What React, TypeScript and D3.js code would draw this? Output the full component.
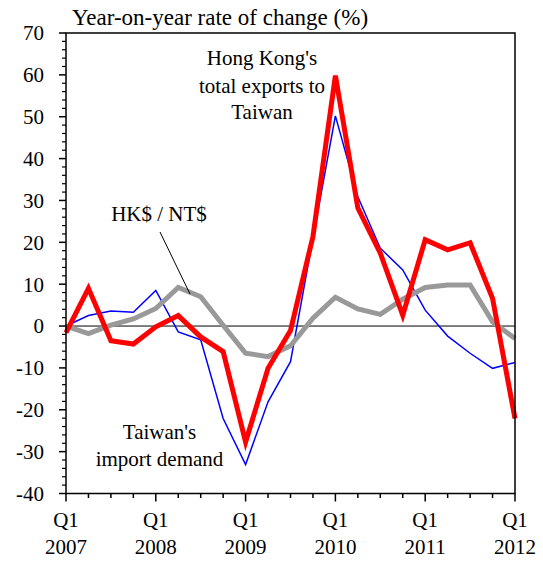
import React from "react";
import * as d3 from "d3";

const quarterIndex: number[] = d3.range(0, 21);
const yearLabels: string[] = ["2007", "2008", "2009", "2010", "2011", "2012"];
const hkExportsToTaiwan: number[] = [-1.6, 9.0, -3.5, -4.3, -0.2, 2.5, -2.6, -6.1, -27.7, -10.1, -1.1, 21.4, 59.8, 28.2, 17.4, 2.6, 20.6, 18.2, 19.9, 6.6, -22.1];
const taiwanImportDemand: number[] = [0, 2.5, 3.6, 3.3, 8.5, -1.4, -3.3, -22.1, -33.1, -18.1, -8.5, 21.0, 50.2, 30.9, 18.6, 13.4, 3.8, -2.4, -6.5, -10.1, -8.7];
const hkdPerNtd: number[] = [0, -1.8, 0.2, 1.7, 4.2, 9.2, 7.0, 0.2, -6.5, -7.3, -4.7, 1.9, 6.9, 4.1, 2.8, 6.4, 9.2, 9.8, 9.8, 1.0, -3.0];
const yMajorTicks: number[] = [-40, -30, -20, -10, 0, 10, 20, 30, 40, 50, 60, 70];

const W = 543;
const H = 565;
const L = 66, R = 515, T = 33, B = 493.5;
const FONT = "Liberation Serif, Times New Roman, serif";
const ts: React.CSSProperties = { fontFamily: FONT, fontSize: 21 };

export default function App() {
  const x = d3.scaleLinear().domain([0, 20]).range([L, R]);
  const y = d3.scaleLinear().domain([-40, 70]).range([B, T]);
  const line = d3.line<number>().x((_, i) => x(i)).y((d) => y(d));
  const minorY = d3.range(-40, 71, 2).filter((v) => v % 10 !== 0);

  return (
    <svg width={W} height={H} style={{ position: "absolute", left: 0, top: 0, background: "#fff", fontFamily: FONT }}>
      {/* title */}
      <text x={72} y={25} style={{ fontFamily: FONT, fontSize: 23 }} fill="#000">Year-on-year rate of change (%)</text>

      {/* zero line */}
      <line x1={L} x2={R} y1={y(0)} y2={y(0)} stroke="#000" strokeWidth={1} />

      {/* series */}
      <path d={line(taiwanImportDemand) || ""} fill="none" stroke="#0000ff" strokeWidth={1.5} strokeLinejoin="miter" />
      <path d={line(hkdPerNtd) || ""} fill="none" stroke="#999999" strokeWidth={5} strokeLinejoin="miter" />
      <path d={line(hkExportsToTaiwan) || ""} fill="none" stroke="#ff0000" strokeWidth={5} strokeLinejoin="miter" />

      {/* frame */}
      <rect x={L} y={T} width={R - L} height={B - T} fill="none" stroke="#000" strokeWidth={1.5} />

      {/* y ticks */}
      {yMajorTicks.map((v) => (
        <g key={"ym" + v}>
          <line x1={L - 7} x2={L} y1={y(v)} y2={y(v)} stroke="#000" strokeWidth={1.5} />
          <text x={44} y={y(v)} dy="0.35em" textAnchor="end" style={ts}>{v}</text>
        </g>
      ))}
      {minorY.map((v) => (
        <line key={"yn" + v} x1={L - 4} x2={L} y1={y(v)} y2={y(v)} stroke="#000" strokeWidth={1.2} />
      ))}

      {/* x ticks */}
      {quarterIndex.map((i) => (
        <line key={"xt" + i} x1={x(i)} x2={x(i)} y1={B} y2={B + (i % 4 === 0 ? 8 : 4.5)} stroke="#000" strokeWidth={1.5} />
      ))}
      {yearLabels.map((yr, k) => (
        <g key={"xl" + yr}>
          <text x={x(k * 4)} y={527} textAnchor="middle" style={ts}>Q1</text>
          <text x={x(k * 4)} y={554} textAnchor="middle" style={ts}>{yr}</text>
        </g>
      ))}

      {/* annotations */}
      <g textAnchor="middle">
        <text x={262} y={65} style={ts}>Hong Kong's</text>
        <text x={262} y={92.5} style={ts}>total exports to</text>
        <text x={262} y={119} style={ts}>Taiwan</text>
        <text x={159} y={220.5} style={ts}>HK$ / NT$</text>
        <text x={159.5} y={439} style={ts}>Taiwan's</text>
        <text x={159.5} y={466} style={ts}>import demand</text>
      </g>
      <line x1={160} y1={232} x2={190} y2={294} stroke="#000" strokeWidth={1} />
    </svg>
  );
}
